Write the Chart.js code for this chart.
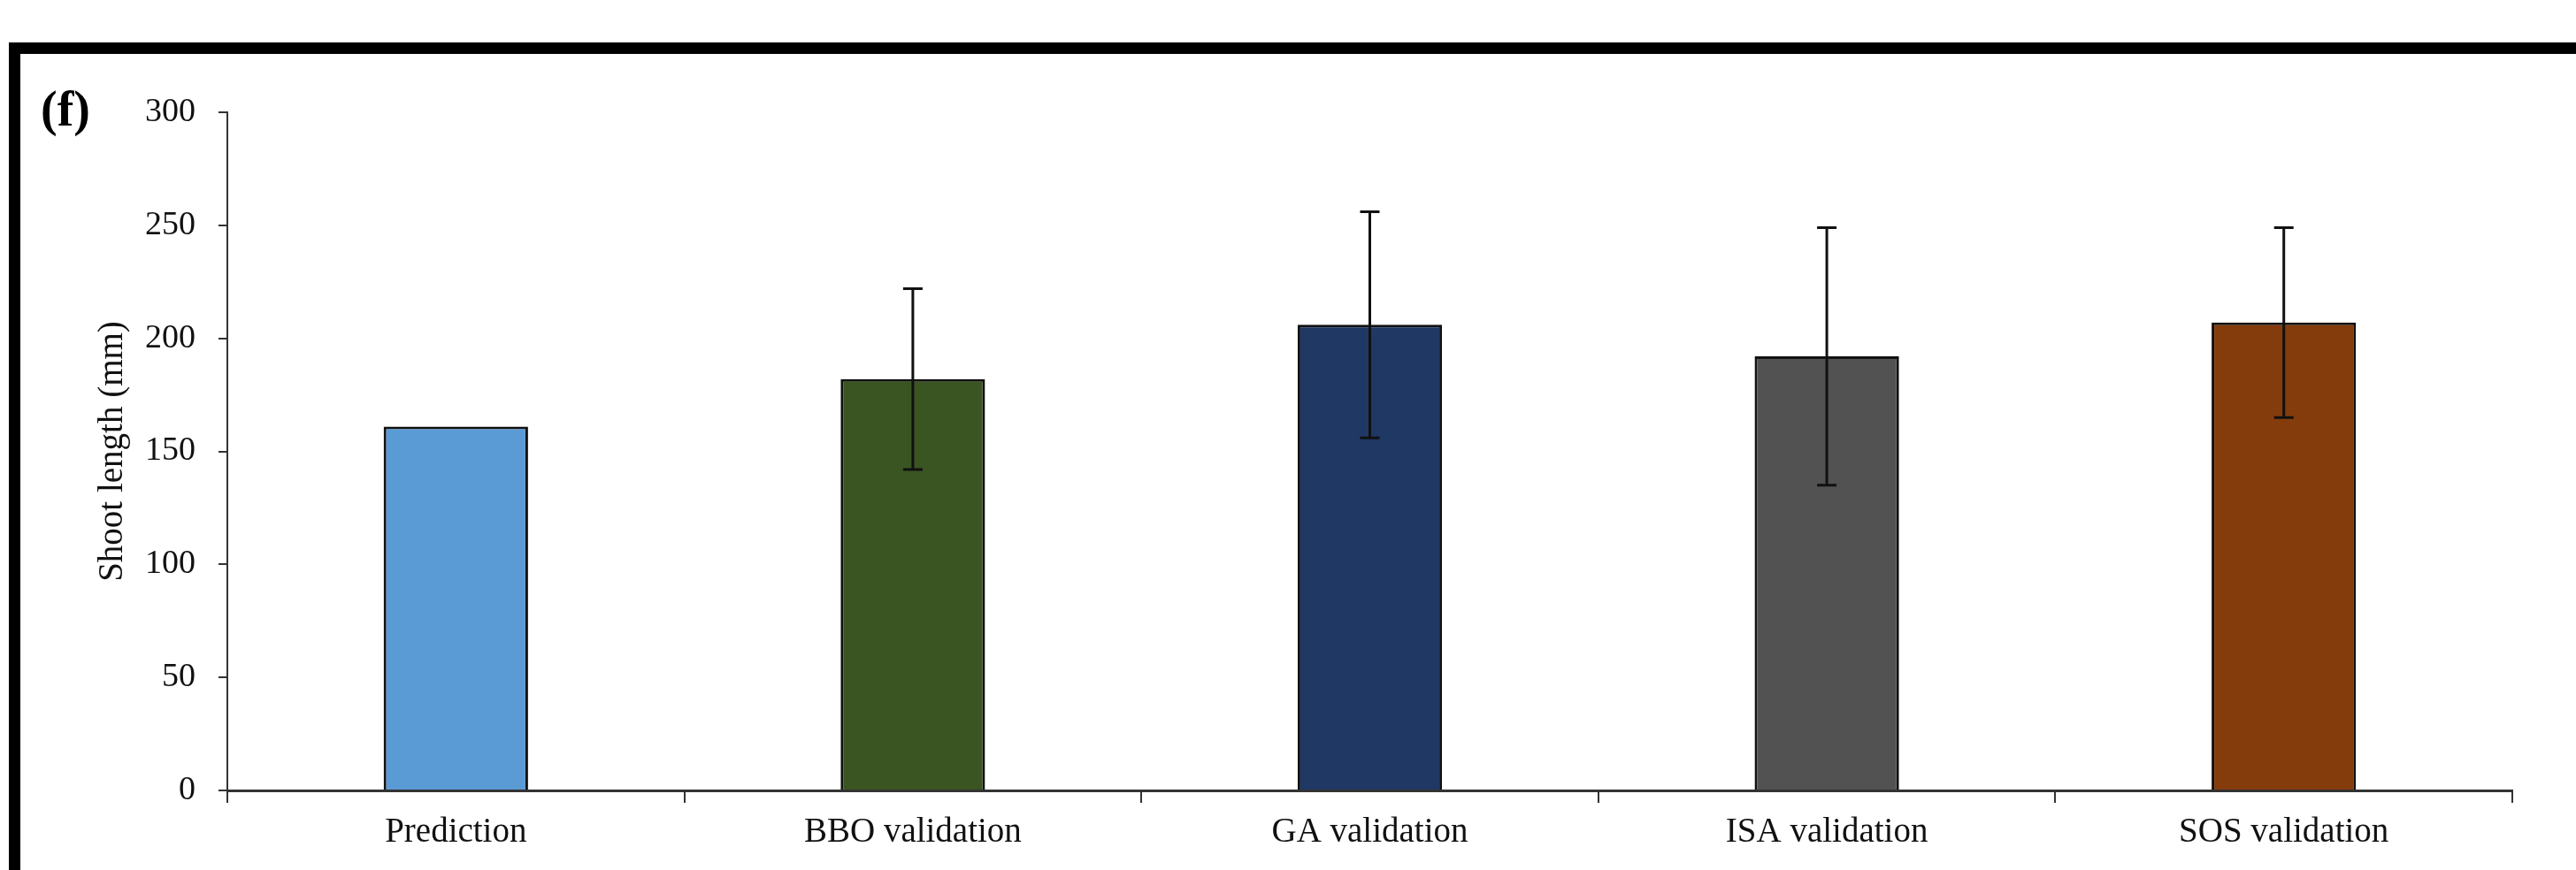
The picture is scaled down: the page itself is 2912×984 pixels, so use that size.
<!DOCTYPE html>
<html>
<head>
<meta charset="utf-8">
<script src="https://cdn.jsdelivr.net/npm/chart.js@4.4.1/dist/chart.umd.min.js"></script>
<style>
  html,body{margin:0;padding:0;background:#fff;}
  #wrap{position:relative;width:2912px;height:984px;}
</style>
</head>
<body>
<div id="wrap"><canvas id="ch" width="2912" height="984"></canvas></div>
<script>
// data
const CATEGORIES = ['Prediction','BBO validation','GA validation','ISA validation','SOS validation'];
const MEANS      = [161, 182, 206, 192, 207];
const ERRORS     = [0, 40, 50, 57, 42];
const BAR_COLORS = ['#5b9bd5','#3a5522','#1f3864','#525252','#843c0c'];
const Y_TICKS    = [0, 50, 100, 150, 200, 250, 300];

const SERIF = '"Liberation Serif", "Times New Roman", serif';

// outer frame + panel label
const framePlugin = {
  id:'frame',
  beforeDraw(chart){
    const c=chart.ctx; c.save();
    c.fillStyle='#fff'; c.fillRect(0,0,chart.width,chart.height);
    c.fillStyle='#000';
    c.fillRect(10,48,chart.width-10,13);   // top rule
    c.fillRect(10,48,13,chart.height-48);  // left rule
    c.font='bold 56px '+SERIF; c.textBaseline='alphabetic'; c.textAlign='left';
    c.fillText('(f)',46,142);
    c.restore();
  }
};

// error bars, positioned through the scales
const errPlugin = {
  id:'errbars',
  afterDatasetsDraw(chart){
    const c=chart.ctx, meta=chart.getDatasetMeta(0), y=chart.scales.y;
    c.save(); c.strokeStyle='#111'; c.lineWidth=3;
    meta.data.forEach((bar,i)=>{
      const e=ERRORS[i]; if(!e) return;
      const x=bar.x, t=y.getPixelForValue(MEANS[i]+e), b=y.getPixelForValue(MEANS[i]-e);
      c.beginPath();
      c.moveTo(x,t); c.lineTo(x,b);
      c.moveTo(x-11,t); c.lineTo(x+11,t);
      c.moveTo(x-11,b); c.lineTo(x+11,b);
      c.stroke();
    });
    c.restore();
  }
};

new Chart(document.getElementById('ch'),{
  type:'bar',
  data:{labels:CATEGORIES,datasets:[{data:MEANS,backgroundColor:BAR_COLORS,borderColor:'#111',borderWidth:3,
    barPercentage:0.316,categoryPercentage:1}]},
  options:{
    responsive:false, animation:false,
    layout:{autoPadding:false,padding:{left:0,right:72,top:127,bottom:0}},
    plugins:{legend:{display:false},tooltip:{enabled:false}},
    scales:{
      x:{
        grid:{offset:true,drawOnChartArea:false,color:'#333',tickLength:14,lineWidth:2},
        border:{color:'#333',width:3},
        ticks:{color:'#111',font:{family:SERIF,size:39},padding:10},
        afterFit(s){ s.height=984-894; }
      },
      y:{
        min:0,max:300,
        afterBuildTicks(s){ s.ticks=Y_TICKS.map(v=>({value:v})); },
        grid:{drawOnChartArea:false,color:'#333',tickLength:10,lineWidth:2},
        border:{color:'#333',width:2},
        ticks:{color:'#111',font:{family:SERIF,size:38},padding:26},
        title:{display:true,text:'Shoot length (mm)',color:'#111',font:{family:SERIF,size:39},padding:{top:104,bottom:0}},
        afterFit(s){ s.width=257; }
      }
    }
  },
  plugins:[framePlugin,errPlugin]
});
</script>
</body>
</html>
